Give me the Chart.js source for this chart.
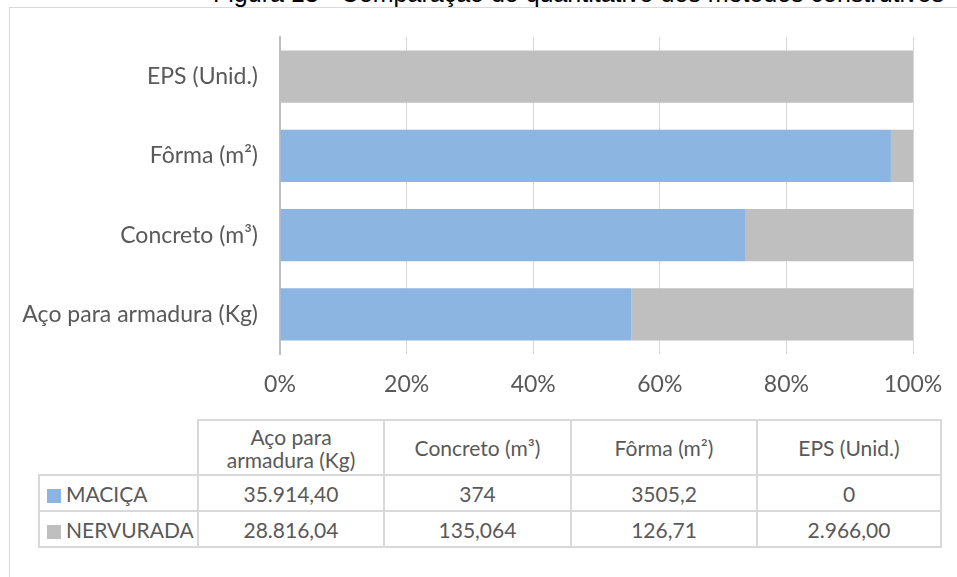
<!DOCTYPE html>
<html><head><meta charset="utf-8">
<script src="https://cdn.jsdelivr.net/npm/chart.js@4.4.1/dist/chart.umd.min.js"></script>
<style>
html,body{margin:0;padding:0;background:#fff;width:957px;height:577px;overflow:hidden;}
body{position:relative;font-family:Lato,sans-serif;}
#frame{position:absolute;left:9px;top:7px;width:1000px;height:700px;border:1px solid #D9D9D9;box-sizing:border-box;}
#title{position:absolute;top:-21px;left:213px;font:25px "Liberation Sans",Arial,sans-serif;color:#000;white-space:nowrap;}
#wrap{position:absolute;left:0;top:0;width:957px;height:410px}
#tbl{position:absolute;left:38px;top:419px;border-collapse:collapse;table-layout:fixed;font-family:Lato,sans-serif;font-size:21px;color:#595959}
#tbl td{border:2px solid #D9D9D9;text-align:center;padding:0;line-height:23px;white-space:nowrap}
#tbl tr.h td{height:53px;white-space:normal}
#tbl tr.r td{height:34px}
#tbl td.blank{border-top:none;border-left:none}
#tbl td.lab{text-align:left;padding-left:7px}
.sw{display:inline-block;width:14px;height:14px;margin-right:5px;vertical-align:-1px}
</style></head>
<body>
<div id="title">Figura 13 - Comparação do quantitativo dos métodos construtivos</div>
<div id="frame"></div>
<div id="wrap"><canvas id="c" width="957" height="410"></canvas></div>
<table id="tbl"></table>
<script>
const categories = ['Aço para armadura (Kg)', 'Concreto (m³)', 'Fôrma (m²)', 'EPS (Unid.)'];
const seriesNames = ['MACIÇA', 'NERVURADA'];
const seriesColors = ['#8DB5E1', '#BFBFBF'];
const macica = [35914.40, 374, 3505.2, 0];
const nervurada = [28816.04, 135.064, 126.71, 2966.00];
const macicaText = ['35.914,40', '374', '3505,2', '0'];
const nervuradaText = ['28.816,04', '135,064', '126,71', '2.966,00'];
const tickStep = 20;

const totals = categories.map((_, i) => macica[i] + nervurada[i]);
const pct = arr => arr.map((v, i) => v / totals[i] * 100);

const FONT = {family: 'Lato', size: 23};
new Chart(document.getElementById('c'), {
  type: 'bar',
  data: {
    labels: categories,
    datasets: [
      {label: seriesNames[0], data: pct(macica), backgroundColor: seriesColors[0], categoryPercentage: 1, barPercentage: 0.66},
      {label: seriesNames[1], data: pct(nervurada), backgroundColor: seriesColors[1], categoryPercentage: 1, barPercentage: 0.66}
    ]
  },
  options: {
    indexAxis: 'y',
    responsive: false,
    animation: false,
    layout: {padding: {left: 0, right: 44, top: 37, bottom: 0}},
    plugins: {legend: {display: false}, tooltip: {enabled: false}, title: {display: false}},
    scales: {
      x: {
        stacked: true, min: 0, max: 100,
        ticks: {stepSize: tickStep, callback: v => v + '%', color: '#595959', font: FONT, padding: 17, maxRotation: 0},
        grid: {color: '#D9D9D9', lineWidth: 1, drawTicks: false},
        border: {display: false},
        afterFit: s => { s.height = 56; s.paddingLeft = 0; s.paddingRight = 0; }
      },
      y: {
        stacked: true, reverse: true,
        ticks: {color: '#595959', font: FONT, padding: 22},
        grid: {display: false, drawTicks: false},
        border: {display: true, color: '#BFBFBF', width: 2},
        afterFit: s => { s.width = 280; s.paddingTop = 0; s.paddingBottom = 0; }
      }
    }
  }
});

// data table
const tbl = document.getElementById('tbl');
const colW = [159, 186, 187, 186, 184];
const cg = document.createElement('colgroup');
colW.forEach(w => { const c = document.createElement('col'); c.style.width = w + 'px'; cg.appendChild(c); });
tbl.appendChild(cg);
const hr = document.createElement('tr'); hr.className = 'h';
const blank = document.createElement('td'); blank.className = 'blank'; hr.appendChild(blank);
categories.forEach(c => { const td = document.createElement('td'); td.textContent = c; td.style.padding = '0 18px'; hr.appendChild(td); });
tbl.appendChild(hr);
[[seriesNames[0], macicaText, seriesColors[0]], [seriesNames[1], nervuradaText, seriesColors[1]]].forEach(([name, vals, col]) => {
  const tr = document.createElement('tr'); tr.className = 'r';
  const lab = document.createElement('td'); lab.className = 'lab';
  const sw = document.createElement('span'); sw.className = 'sw'; sw.style.background = col;
  lab.appendChild(sw); lab.appendChild(document.createTextNode(name));
  tr.appendChild(lab);
  vals.forEach(v => { const td = document.createElement('td'); td.textContent = v; tr.appendChild(td); });
  tbl.appendChild(tr);
});
</script>
</body></html>
